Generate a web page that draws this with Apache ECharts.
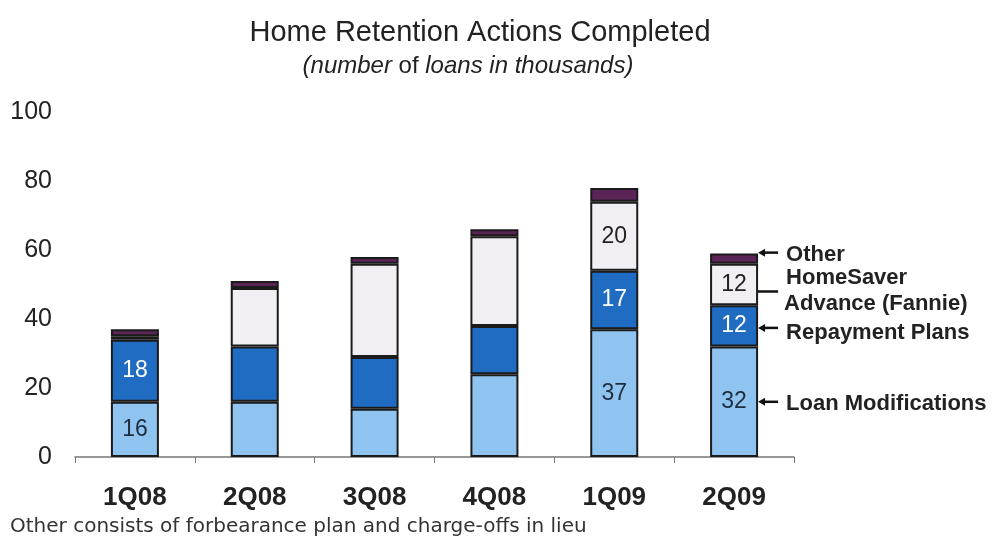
<!DOCTYPE html>
<html>
<head>
<meta charset="utf-8">
<script src="https://cdn.jsdelivr.net/npm/echarts@6/dist/echarts.min.js"></script>
</head>
<body style="margin:0;background:#fff">
<div id="chart" style="width:994px;height:540px"></div>
<script>
// quarters
const categories = ['1Q08', '2Q08', '3Q08', '4Q08', '1Q09', '2Q09'];
// thousands of loans, bottom to top of each stack
const loanModifications = [16, 16, 14, 24, 37, 32];
const repaymentPlans = [18, 16, 15, 14, 17, 12];
const homeSaver = [1, 17, 27, 26, 20, 12];
const other = [2, 2, 2, 2, 4, 3];
const yTicks = [0, 20, 40, 60, 80, 100];
// bars that have numbers printed on them
const labeledBars = {
  loan: ['1Q08', '1Q09', '2Q09'],
  repay: ['1Q08', '1Q09', '2Q09'],
  saver: ['1Q09', '2Q09']
};

const FONT = '"Liberation Sans", Arial, sans-serif';
const BAR_W = 48;

function segLabel (key, color) {
  return {
    show: true,
    position: 'inside',
    color: color,
    fontFamily: FONT,
    fontSize: 23,
    formatter: p => labeledBars[key].indexOf(p.name) >= 0 ? p.value : ''
  };
}

const border = { borderColor: '#1b1b1b', borderWidth: 2 };

const chart = echarts.init(document.getElementById('chart'));
chart.setOption({
  animation: false,
  title: [
    {
      text: 'Home Retention Actions Completed',
      left: 475,
      textAlign: 'center',
      top: 13,
      textStyle: { fontFamily: FONT, fontSize: 29, fontWeight: 'normal', color: '#222' }
    },
    {
      text: '{i|(number} of {i|loans in thousands)}',
      left: 463,
      textAlign: 'center',
      top: 49,
      textStyle: {
        fontFamily: FONT, fontSize: 24, fontWeight: 'normal', color: '#222',
        rich: { i: { fontFamily: FONT, fontSize: 24, fontStyle: 'italic', color: '#222' } }
      }
    }
  ],
  grid: { left: 75, right: 200, top: 112, bottom: 83 },
  xAxis: {
    type: 'category',
    data: categories,
    axisLine: { lineStyle: { color: '#777', width: 1.5 } },
    axisTick: { show: true, length: 6, lineStyle: { color: '#777' } },
    axisLabel: { margin: 28, fontFamily: FONT, fontSize: 26, fontWeight: 'bold', color: '#222' }
  },
  yAxis: {
    type: 'value',
    min: yTicks[0],
    max: yTicks[yTicks.length - 1],
    interval: yTicks[1] - yTicks[0],
    axisLine: { show: false },
    axisTick: { show: false },
    splitLine: { show: false },
    axisLabel: { margin: 23, fontFamily: FONT, fontSize: 25, color: '#222' }
  },
  series: [
    {
      name: 'Loan Modifications', type: 'bar', stack: 'all', barWidth: BAR_W,
      data: loanModifications,
      itemStyle: Object.assign({ color: '#8fc4f1' }, border),
      label: segLabel('loan', '#1f2d3d')
    },
    {
      name: 'Repayment Plans', type: 'bar', stack: 'all', barWidth: BAR_W,
      data: repaymentPlans,
      itemStyle: Object.assign({ color: '#1f6cc2' }, border),
      label: segLabel('repay', '#fff')
    },
    {
      name: 'HomeSaver Advance (Fannie)', type: 'bar', stack: 'all', barWidth: BAR_W,
      data: homeSaver,
      itemStyle: Object.assign({ color: '#f1eff3' }, border),
      label: segLabel('saver', '#222')
    },
    {
      name: 'Other', type: 'bar', stack: 'all', barWidth: BAR_W,
      data: other,
      itemStyle: Object.assign({ color: '#5a2456' }, border)
    }
  ]
});

// callouts to the right of the last bar
function annotate () {
  const i = categories.length - 1;
  const cat = categories[i];
  const stacks = [loanModifications, repaymentPlans, homeSaver, other];
  const texts = [['Loan Modifications'], ['Repayment Plans'], ['HomeSaver', 'Advance (Fannie)'], ['Other']];
  const arrowDy = [0, 2, 7, -6];
  const textDy = [2, 5, 0, 2];
  const graphics = [];
  let base = 0;
  stacks.forEach((s, k) => {
    const mid = base + s[i] / 2;
    base += s[i];
    const pt = chart.convertToPixel({ seriesIndex: 0 }, [cat, mid]);
    const x0 = pt[0] + BAR_W / 2 + (k === 2 ? -8 : 0);
    const y = pt[1] + arrowDy[k];
    graphics.push({
      type: 'line',
      shape: { x1: x0 + 4, y1: y, x2: pt[0] + BAR_W / 2 + 20, y2: y },
      style: { stroke: '#111', lineWidth: 2.5 }
    });
    graphics.push({
      type: 'polygon',
      shape: { points: [[x0, y], [x0 + 7, y - 4], [x0 + 7, y + 4]] },
      style: { fill: '#111' }
    });
    const tx = pt[0] + BAR_W / 2 + 28;
    if (texts[k].length === 1) {
      graphics.push({
        type: 'text', x: tx, y: y + textDy[k],
        style: { text: texts[k][0], font: 'bold 22px ' + FONT, fill: '#222', verticalAlign: 'middle' }
      });
    } else {
      graphics.push({
        type: 'text', x: tx, y: y - 14,
        style: { text: texts[k][0], font: 'bold 22px ' + FONT, fill: '#222', verticalAlign: 'middle' }
      });
      graphics.push({
        type: 'text', x: tx - 2, y: y + 12,
        style: { text: texts[k][1], font: 'bold 22px ' + FONT, fill: '#222', verticalAlign: 'middle' }
      });
    }
  });
  graphics.push({
    type: 'text', left: 10, top: 517,
    style: {
      text: 'Other consists of forbearance plan and charge-offs in lieu',
      font: '20px "DejaVu Sans", Verdana, sans-serif', fill: '#333'
    }
  });
  chart.setOption({ graphic: graphics });
}
annotate();
</script>
</body>
</html>
